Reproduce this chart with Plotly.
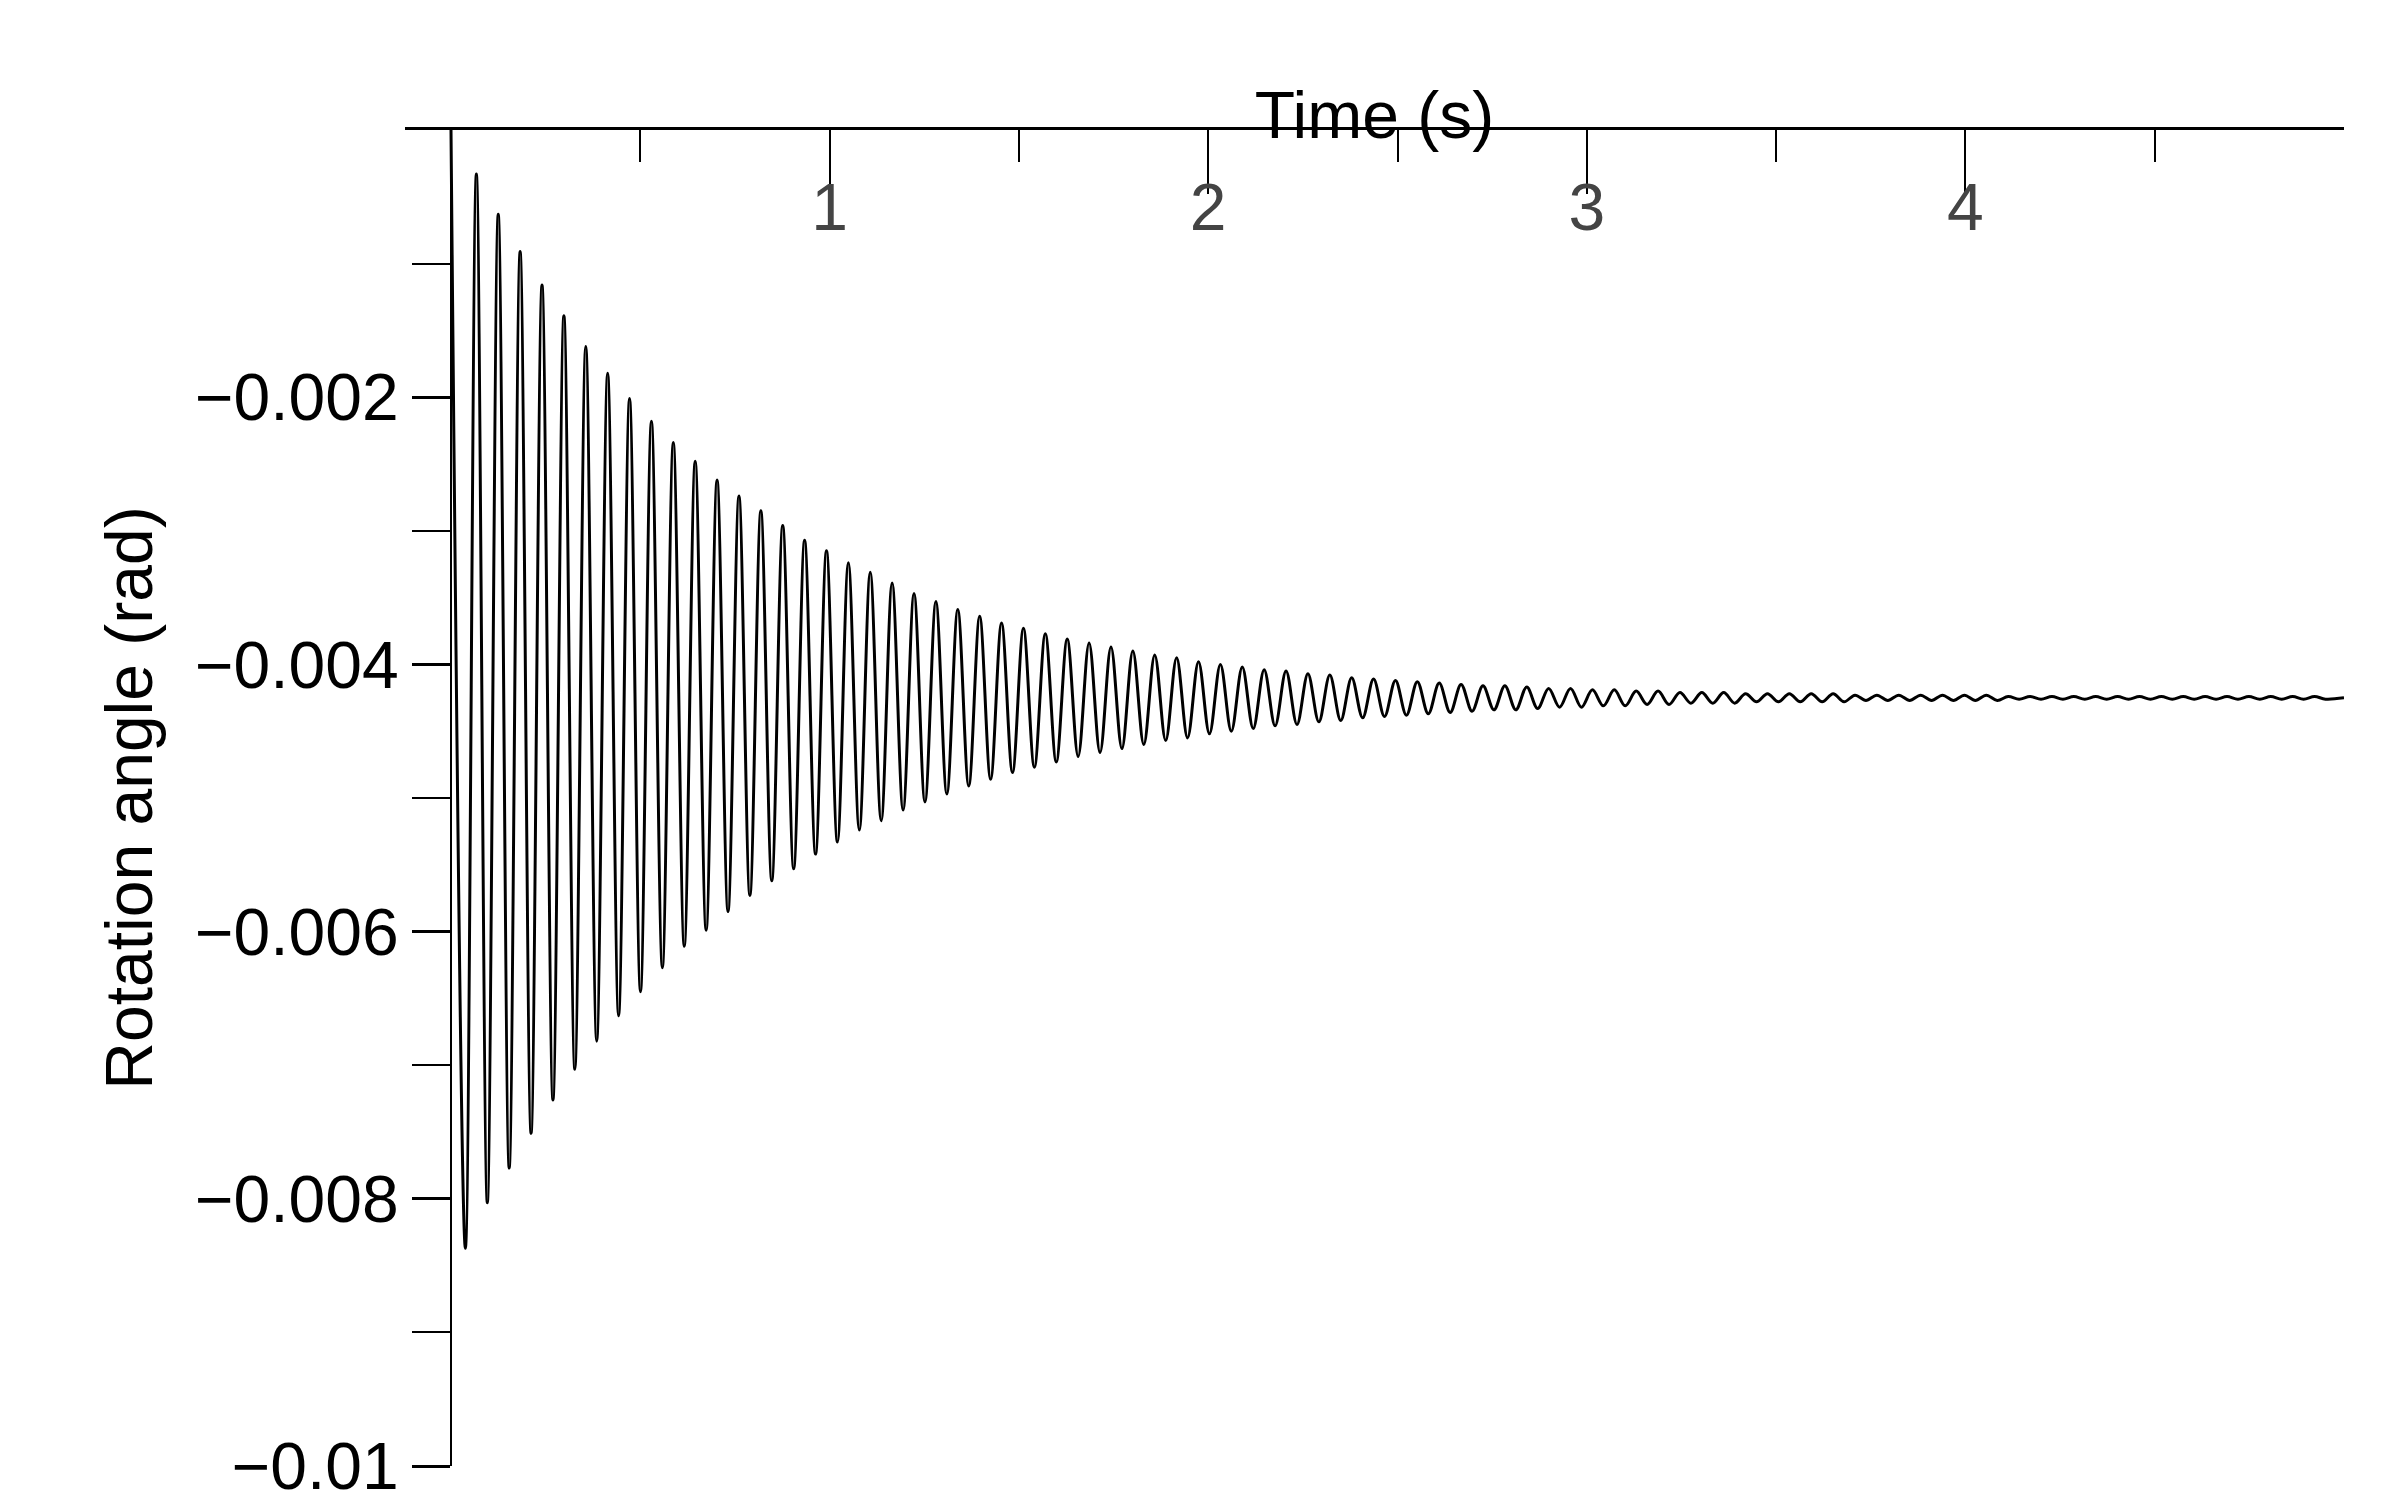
import numpy as np
import plotly.graph_objects as go

# Extreme values of the oscillation (rad)
start_value = [0.0]
troughs = [-0.00837, -0.00803, -0.00777, -0.00751, -0.00726, -0.00703, -0.00682, -0.00663,
           -0.00645, -0.00627, -0.00611, -0.00599, -0.00585, -0.00573, -0.00562, -0.00553,
           -0.00542, -0.00533, -0.00524, -0.00517, -0.00509,
           -0.00503, -0.00497, -0.00491, -0.00486, -0.00481, -0.00477, -0.00473, -0.00469,
           -0.00466, -0.00463, -0.00460, -0.00457, -0.00455, -0.00452, -0.00450, -0.00448,
           -0.00446, -0.00445, -0.00443, -0.00442, -0.00440, -0.00439, -0.00438, -0.00437,
           -0.00436, -0.00435, -0.00434, -0.00434, -0.00433, -0.00432, -0.00432, -0.00431,
           -0.00431, -0.00430, -0.00430, -0.00429, -0.00429, -0.00429, -0.00428, -0.00428,
           -0.00428, -0.00428, -0.00428, -0.00427, -0.00427, -0.00427, -0.00427, -0.00427,
           -0.00427, -0.00427, -0.00426, -0.00426, -0.00426, -0.00426, -0.00426, -0.00426,
           -0.00426, -0.00426, -0.00426, -0.00426, -0.00426, -0.00426, -0.00426, -0.00426,
           -0.00426]
peaks = [-0.00033, -0.00063, -0.00091, -0.00116, -0.00139, -0.00162, -0.00182, -0.00201,
         -0.00218, -0.00234, -0.00248, -0.00262, -0.00274, -0.00285, -0.00296, -0.00307,
         -0.00315, -0.00324, -0.00331, -0.00339,
         -0.00347, -0.00353, -0.00359, -0.00364, -0.00369, -0.00373, -0.00377, -0.00381,
         -0.00384, -0.00387, -0.00390, -0.00393, -0.00395, -0.00398, -0.00400, -0.00402,
         -0.00404, -0.00405, -0.00407, -0.00408, -0.00410, -0.00411, -0.00412, -0.00413,
         -0.00414, -0.00415, -0.00416, -0.00416, -0.00417, -0.00418, -0.00418, -0.00419,
         -0.00419, -0.00420, -0.00420, -0.00421, -0.00421, -0.00421, -0.00422, -0.00422,
         -0.00422, -0.00422, -0.00422, -0.00423, -0.00423, -0.00423, -0.00423, -0.00423,
         -0.00423, -0.00423, -0.00424, -0.00424, -0.00424, -0.00424, -0.00424, -0.00424,
         -0.00424, -0.00424, -0.00424, -0.00424, -0.00424, -0.00424, -0.00424, -0.00424,
         -0.00424]
end_value = [-0.00425]
first_trough_time = 0.038   # s
first_peak_time = 0.067     # s
half_period = 0.0289        # s (about 17.3 Hz)

y_tick_vals = [0, -0.002, -0.004, -0.006, -0.008, -0.01]
y_tick_text = ["0", "\u22120.002", "\u22120.004", "\u22120.006", "\u22120.008", "\u22120.01"]
x_tick_vals = [1, 2, 3, 4, 5]
x_tick_text = ["1", "2", "3", "4", "5"]

vals = list(start_value)
times = [0.0]
n = min(len(troughs), len(peaks) + 1)
seq = []
for i in range(n):
    seq.append(troughs[i])
    if i < len(peaks):
        seq.append(peaks[i])
for k, v in enumerate(seq):
    if k == 0:
        times.append(first_trough_time)
    else:
        times.append(first_peak_time + (k - 1) * half_period)
    vals.append(v)
times.append(5.0)
vals.append(end_value[0])

FONT = "Liberation Sans, Arial, sans-serif"
fig = go.Figure()
fig.add_trace(go.Scatter(x=times, y=vals, mode="lines",
                         line=dict(color="black", width=3, shape="spline", smoothing=1.0),
                         showlegend=False, hoverinfo="skip"))

fig.update_layout(
    width=2395, height=1504,
    margin=dict(l=397, r=59, t=122, b=46),
    paper_bgcolor="white", plot_bgcolor="white",
    font=dict(family=FONT, color="black", size=66),
    xaxis=dict(range=[-0.1215, 5], side="top", showgrid=False, zeroline=False,
               showline=True, linecolor="black", linewidth=3,
               tickvals=x_tick_vals, ticktext=x_tick_text, ticks="inside",
               ticklen=64, tickwidth=2, tickcolor="black",
               ticklabelposition="inside", tickfont=dict(size=66),
               minor=dict(tickvals=[0.5, 1.5, 2.5, 3.5, 4.5], ticks="inside", ticklen=32,
                          tickwidth=2, tickcolor="black"),
               title=dict(text="Time (s)", font=dict(size=66), standoff=10),
               automargin=False),
    yaxis=dict(range=[-0.01, 0], anchor="free", position=0.0237, showgrid=False,
               zeroline=False, showline=True, linecolor="black", linewidth=2,
               tickvals=y_tick_vals, ticktext=y_tick_text, ticks="outside",
               ticklen=38, tickwidth=3, tickcolor="black", tickfont=dict(size=66),
               minor=dict(tickvals=[-0.001, -0.003, -0.005, -0.007, -0.009], ticks="outside",
                          ticklen=38, tickwidth=2, tickcolor="black"),
               title=dict(text="Rotation angle (rad)", font=dict(size=66), standoff=20),
               automargin=False),
)
fig.write_html("out.html")
